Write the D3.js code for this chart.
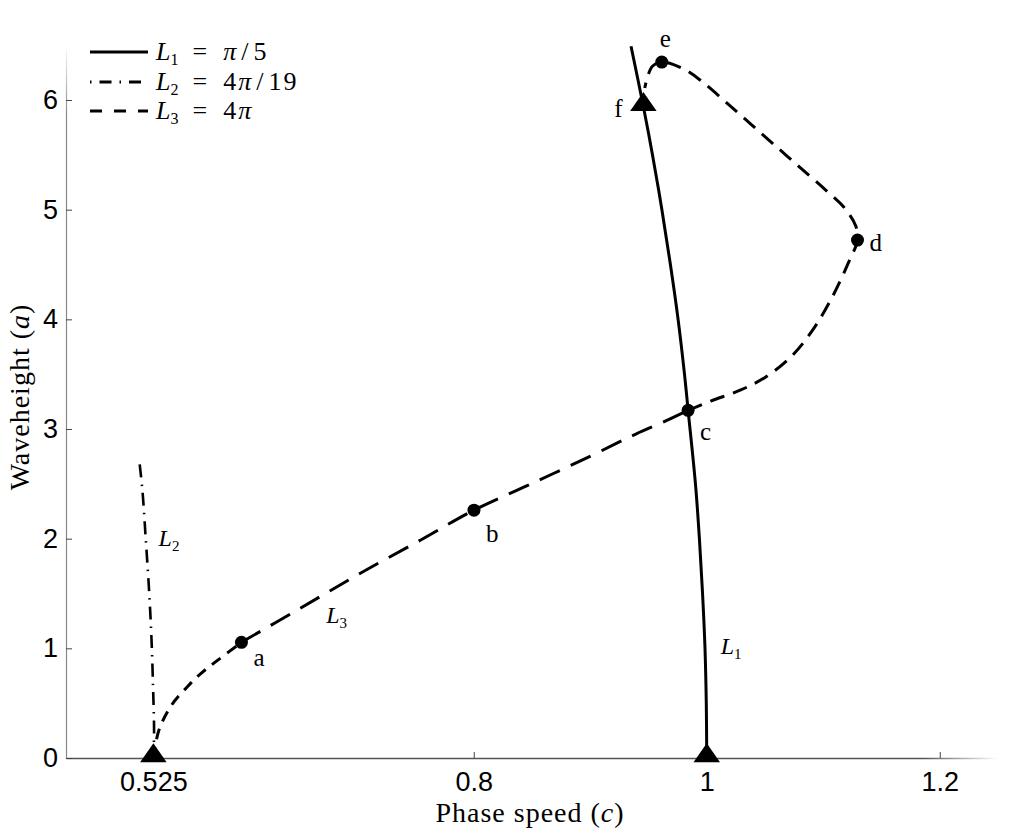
<!DOCTYPE html>
<html>
<head>
<meta charset="utf-8">
<script src="https://cdn.jsdelivr.net/npm/d3@7"></script>
<style>
  html, body { margin: 0; padding: 0; background: #fff; }
  svg { display: block; }
</style>
</head>
<body>
<svg id="chart" width="1013" height="836"></svg>
<script>
// ---------------- data ----------------
const xTickValues = [0.525, 0.8, 1, 1.2];
const xTickLabels = ["0.525", "0.8", "1", "1.2"];
const yTickValues = [0, 1, 2, 3, 4, 5, 6];
const yTickLabels = ["0", "1", "2", "3", "4", "5", "6"];

// L1 = pi/5 (solid)
const L1_c = [1.0, 0.9996, 0.9985, 0.9964, 0.9937, 0.9903, 0.9840, 0.9809, 0.9754, 0.9688, 0.9615, 0.9534, 0.9456, 0.9350];
const L1_a = [0.0, 0.5, 1.0, 1.5, 2.0, 2.5, 3.17, 3.5, 4.0, 4.5, 5.0, 5.5, 5.94, 6.49];

// L2 = 4pi/19 (dash-dot)
const L2_c = [0.525, 0.5256, 0.5248, 0.5234, 0.5213, 0.5185, 0.5156, 0.5127];
const L2_a = [0.0, 0.23, 0.62, 1.08, 1.53, 1.99, 2.44, 2.73];

// L3 = 4pi (dashed)
const L3_c = [0.525, 0.5298, 0.5405, 0.5542, 0.5657, 0.5800, 0.6006,
              0.6515, 0.7030, 0.7545, 0.8002,
              0.8489, 0.9004, 0.9391, 0.9648, 0.9840,
              1.0034, 1.0292, 1.0506, 1.0721, 1.0910, 1.1082, 1.1219, 1.1294,
              1.1279, 1.1176, 1.1021, 1.0807, 1.0592, 1.0378, 1.0163, 0.9974, 0.9820, 0.9614,
              0.9536, 0.9494, 0.9468];
const L3_a = [0.0, 0.255, 0.48, 0.65, 0.77, 0.89, 1.055,
              1.368, 1.687, 1.988, 2.26,
              2.498, 2.754, 2.954, 3.073, 3.17,
              3.255, 3.356, 3.474, 3.656, 3.903, 4.213, 4.523, 4.723,
              4.851, 5.024, 5.179, 5.379, 5.580, 5.781, 5.982, 6.155, 6.273, 6.346,
              6.310, 6.219, 6.109];

// marked points
const dotNames = ["a", "b", "c", "d", "e"];
const dotC = [0.6006, 0.8002, 0.9840, 1.1294, 0.9614];
const dotA = [1.055, 2.26, 3.17, 4.723, 6.346];

const triNames = ["", "", "f"];
const triC = [0.525, 1.0, 0.9456];
const triA = [0.0, 0.0, 5.94];

const legendSub = ["1", "2", "3"];
const legendCoef = ["", "4", "4"];
const legendDen = ["5", "19", ""];

// ---------------- drawing ----------------
const svg = d3.select("#chart");
const x = d3.scaleLinear().domain([0.45, 1.25]).range([66, 998]);
const y = d3.scaleLinear().domain([0, 6.5]).range([758, 758 - 6.5 * 109.667]);

const serif = "'Liberation Serif', 'DejaVu Serif', serif";
const sans = "'Liberation Sans', Arial, sans-serif";

// gradients for fading axis ends
const defs = svg.append("defs");
const gx = defs.append("linearGradient").attr("id", "gx")
  .attr("gradientUnits", "userSpaceOnUse").attr("x1", 66).attr("x2", 998).attr("y1", 0).attr("y2", 0);
gx.append("stop").attr("offset", 0.92).attr("stop-color", "#555").attr("stop-opacity", 1);
gx.append("stop").attr("offset", 1).attr("stop-color", "#555").attr("stop-opacity", 0);
const gy = defs.append("linearGradient").attr("id", "gy")
  .attr("gradientUnits", "userSpaceOnUse").attr("x1", 0).attr("x2", 0).attr("y1", 758).attr("y2", y(6.5));
gy.append("stop").attr("offset", 0.9).attr("stop-color", "#888").attr("stop-opacity", 1);
gy.append("stop").attr("offset", 1).attr("stop-color", "#888").attr("stop-opacity", 0);

// axes
const xAxis = d3.axisBottom(x).tickValues(xTickValues).tickSizeInner(-6).tickSizeOuter(0)
  .tickFormat((d, i) => xTickLabels[i]).tickPadding(14);
const gxAxis = svg.append("g").attr("transform", `translate(0,${y(0)})`).call(xAxis);
gxAxis.select(".domain").attr("stroke", "url(#gx)").attr("stroke-width", 1.6);
gxAxis.selectAll(".tick line").attr("stroke", "#444");
gxAxis.selectAll(".tick text").attr("font-family", sans).attr("font-size", 27).attr("fill", "#000");

const yAxis = d3.axisLeft(y).tickValues(yTickValues).tickSizeInner(-6).tickSizeOuter(0)
  .tickFormat((d, i) => yTickLabels[i]).tickPadding(8);
const gyAxis = svg.append("g").attr("transform", `translate(${x(0.45)},0)`).call(yAxis);
gyAxis.select(".domain").attr("stroke", "url(#gy)").attr("stroke-width", 1.2);
gyAxis.selectAll(".tick line").attr("stroke", "#444");
gyAxis.selectAll(".tick text").attr("font-family", sans).attr("font-size", 27).attr("fill", "#000");

// axis titles
const xt = svg.append("text").attr("x", 530).attr("y", 822).attr("text-anchor", "middle")
  .attr("font-family", serif).attr("font-size", 28).attr("letter-spacing", 1);
xt.append("tspan").text("Phase speed (");
xt.append("tspan").attr("font-style", "italic").text("c");
xt.append("tspan").text(")");

const yt = svg.append("text").attr("transform", "translate(29,397) rotate(-90)").attr("text-anchor", "middle")
  .attr("font-family", serif).attr("font-size", 28).attr("letter-spacing", 1);
yt.append("tspan").text("Waveheight (");
yt.append("tspan").attr("font-style", "italic").text("a");
yt.append("tspan").text(")");

// curves
const line = d3.line().x(d => x(d[0])).y(d => y(d[1])).curve(d3.curveCatmullRom.alpha(0.5));
const zip = (cs, as) => cs.map((c, i) => [c, as[i]]);
const L1 = zip(L1_c, L1_a), L2 = zip(L2_c, L2_a), L3 = zip(L3_c, L3_a);

svg.append("path").attr("d", line(L1)).attr("fill", "none").attr("stroke", "#000").attr("stroke-width", 3);
svg.append("path").attr("d", line(L2)).attr("fill", "none").attr("stroke", "#000").attr("stroke-width", 2.6)
  .attr("stroke-dasharray", "13,7,1.5,7").attr("stroke-dashoffset", 4);

// L3 drawn in three runs (a-to-c run has longer dashes)
const segs = [[0, 6, "11,8"], [6, 15, "22,12"], [15, L3.length - 1, "15,9"]];
segs.forEach(s => {
  svg.append("path").attr("d", line(L3.slice(s[0], s[1] + 1))).attr("fill", "none")
    .attr("stroke", "#000").attr("stroke-width", 3).attr("stroke-dasharray", s[2]);
});

// markers
svg.selectAll("circle.pt").data(dotNames).enter().append("circle")
  .attr("cx", (d, i) => x(dotC[i])).attr("cy", (d, i) => y(dotA[i])).attr("r", 6.5).attr("fill", "#000");
const tri = d3.symbol().type(d3.symbolTriangle).size(230);
svg.selectAll("path.tri").data(triNames).enter().append("path")
  .attr("d", tri).attr("fill", "#000")
  .attr("transform", (d, i) => `translate(${x(triC[i])},${y(triA[i]) - 2}) scale(1.15,0.95)`);

// point labels
const dotOff = [[12, 24], [12, 32], [12, 30], [12, 11], [-2, -15]];
svg.selectAll("text.pl").data(dotNames).enter().append("text")
  .attr("x", (d, i) => x(dotC[i]) + dotOff[i][0]).attr("y", (d, i) => y(dotA[i]) + dotOff[i][1])
  .attr("font-family", serif).attr("font-size", 25).text(d => d);
svg.append("text").attr("x", x(triC[2]) - 29).attr("y", y(triA[2]) + 10)
  .attr("font-family", serif).attr("font-size", 25).text(triNames[2]);

// curve name labels
function curveLabel(px, py, sub) {
  const t = svg.append("text").attr("x", px).attr("y", py).attr("font-family", serif).attr("font-size", 24);
  t.append("tspan").attr("font-style", "italic").text("L");
  t.append("tspan").attr("font-size", 15).attr("dy", 5).text(sub);
}
curveLabel(x(1.012), y(0.95), legendSub[0]);
curveLabel(x(0.5295), y(1.93), legendSub[1]);
curveLabel(x(0.6733), y(1.23), legendSub[2]);

// legend
const legY = [52, 82, 111];
const legDash = [null, "1.5,8,12,8", "12,12"];
legendSub.forEach((s, i) => {
  const ln = svg.append("line").attr("x1", 90).attr("x2", 148).attr("y1", legY[i]).attr("y2", legY[i])
    .attr("stroke", "#000").attr("stroke-width", 3);
  if (legDash[i]) ln.attr("stroke-dasharray", legDash[i]);
  const t = svg.append("text").attr("x", 156).attr("y", legY[i] + 8).attr("font-family", serif).attr("font-size", 26);
  t.append("tspan").attr("font-style", "italic").text("L");
  t.append("tspan").attr("font-size", 16).attr("dy", 5).text(s);
  t.append("tspan").attr("dy", -5).attr("dx", 14).attr("transform", "scale(1.3,1)").text("=");
  if (legendCoef[i]) {
    t.append("tspan").attr("dx", 16).text(legendCoef[i]);
    t.append("tspan").attr("dx", 2).attr("font-style", "italic").text("\u03C0");
  } else {
    t.append("tspan").attr("dx", 16).attr("font-style", "italic").text("\u03C0");
  }
  if (legendDen[i]) {
    t.append("tspan").attr("dx", 5).text("/");
    t.append("tspan").attr("dx", 5).attr("letter-spacing", 2).text(legendDen[i]);
  }
});
</script>
</body>
</html>
